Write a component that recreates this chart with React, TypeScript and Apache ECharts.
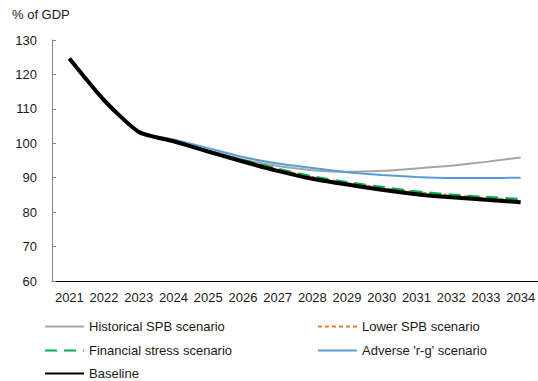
import React, { useEffect, useRef } from "react";
import * as echarts from "echarts";

const years = ["2021","2022","2023","2024","2025","2026","2027","2028","2029","2030","2031","2032","2033","2034"];
const historicalSPB = [124.6, 112.5, 103.3, 100.8, 98.0, 95.3, 93.4, 92.2, 91.7, 92.0, 92.7, 93.5, 94.6, 95.9];
const lowerSPB = [124.6, 112.5, 103.3, 100.6, 97.7, 94.9, 92.4, 90.2, 88.5, 87.0, 85.8, 84.9, 84.1, 83.5];
const financialStress = [124.6, 112.5, 103.3, 100.6, 97.7, 95.0, 92.5, 90.3, 88.6, 87.2, 85.9, 85.0, 84.3, 83.7];
const adverseRG = [124.6, 112.5, 103.3, 101.1, 98.6, 96.0, 94.1, 92.8, 91.6, 90.8, 90.2, 89.9, 89.9, 90.0];
const baseline = [124.6, 112.5, 103.3, 100.6, 97.6, 94.7, 92.0, 89.7, 88.0, 86.5, 85.2, 84.3, 83.6, 82.9];
const yTicks = { min: 60, max: 130, interval: 10 };

const FONT = "'Liberation Sans', Arial, sans-serif";

export default function App() {
  const ref = useRef<HTMLDivElement>(null);
  useEffect(() => {
    if (!ref.current) return;
    const chart = echarts.init(ref.current, null, { renderer: "svg" });
    const textStyle = { fontFamily: FONT, fontSize: 13, color: "#1a1a1a" };
    const legendAt = (name: string, left: number, top: number) => ({
      orient: "horizontal",
      left,
      top,
      padding: 0,
      itemWidth: 39,
      itemHeight: 12,
      itemGap: 0,
      itemStyle: { opacity: 0 },
      textStyle,
      data: [name],
    });
    chart.setOption({
      animation: false,
      textStyle: { fontFamily: FONT },
      title: {
        text: "% of GDP",
        left: 12,
        top: 8,
        padding: 0,
        textStyle: { fontFamily: FONT, fontSize: 13, fontWeight: "normal", color: "#1a1a1a" },
      },
      grid: { left: 52, top: 40, width: 489, height: 241, containLabel: false },
      legend: [
        legendAt("Historical SPB scenario", 44, 320),
        legendAt("Financial stress scenario", 44, 344),
        legendAt("Baseline", 44, 367),
        legendAt("Lower SPB scenario", 317, 320),
        legendAt("Adverse 'r-g' scenario", 317, 344),
      ],
      xAxis: {
        type: "category",
        data: years,
        boundaryGap: true,
        axisLine: { lineStyle: { color: "#000", width: 1 } },
        axisTick: { inside: true, length: 4, lineStyle: { color: "#000" } },
        axisLabel: { fontFamily: FONT, fontSize: 13, color: "#1a1a1a", margin: 10, interval: 0 },
      },
      yAxis: {
        type: "value",
        min: yTicks.min,
        max: yTicks.max,
        interval: yTicks.interval,
        splitLine: { show: false },
        axisLine: { show: true, lineStyle: { color: "#868686", width: 1 } },
        axisTick: { show: true, inside: true, length: 4, lineStyle: { color: "#868686" } },
        axisLabel: { fontFamily: FONT, fontSize: 13, color: "#1a1a1a", margin: 15 },
      },
      series: [
        {
          name: "Historical SPB scenario",
          type: "line",
          data: historicalSPB,
          symbol: "none",
          smooth: 0.2,
          lineStyle: { color: "#A5A5A5", width: 2 },
          itemStyle: { color: "#A5A5A5" },
        },
        {
          name: "Lower SPB scenario",
          type: "line",
          data: lowerSPB,
          symbol: "none",
          smooth: 0.2,
          lineStyle: { color: "#ED7D31", width: 2, type: [4, 3] },
          itemStyle: { color: "#ED7D31" },
        },
        {
          name: "Financial stress scenario",
          type: "line",
          data: financialStress,
          symbol: "none",
          smooth: 0.2,
          lineStyle: { color: "#00B050", width: 3, type: [12, 7] },
          itemStyle: { color: "#00B050" },
        },
        {
          name: "Adverse 'r-g' scenario",
          type: "line",
          data: adverseRG,
          symbol: "none",
          smooth: 0.2,
          lineStyle: { color: "#5B9BD5", width: 2 },
          itemStyle: { color: "#5B9BD5" },
        },
        {
          name: "Baseline",
          type: "line",
          data: baseline,
          symbol: "none",
          smooth: 0.2,
          lineStyle: { color: "#000000", width: 4 },
          itemStyle: { color: "#000000" },
        },
      ],
    });
    return () => chart.dispose();
  }, []);
  return <div ref={ref} style={{ width: 538, height: 381, position: "absolute", left: 0, top: 0 }} />;
}
